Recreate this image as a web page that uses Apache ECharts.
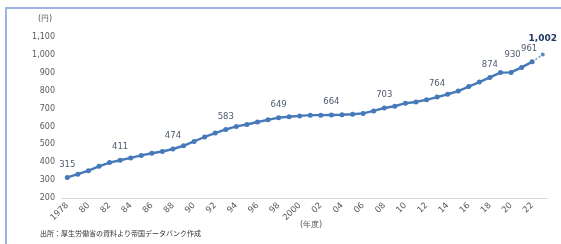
<!DOCTYPE html>
<html>
<head>
<meta charset="utf-8">
<script src="https://cdn.jsdelivr.net/npm/echarts@6/dist/echarts.min.js"></script>
<style>
html,body{margin:0;padding:0;background:#fff;}
#c{width:561px;height:244px;}
</style>
</head>
<body>
<div id="c"></div>
<script>
const years = [1978,1979,1980,1981,1982,1983,1984,1985,1986,1987,1988,1989,1990,1991,1992,1993,1994,1995,1996,1997,1998,1999,2000,2001,2002,2003,2004,2005,2006,2007,2008,2009,2010,2011,2012,2013,2014,2015,2016,2017,2018,2019,2020,2021,2022,2023];
const wages = [315,333,353,377,398,411,424,438,450,460,474,492,516,541,563,583,600,611,625,637,649,654,659,663,663,664,665,668,673,687,703,713,730,737,749,764,780,798,823,848,874,901,902,930,961,1002];
const labeledYears = [1978,1983,1988,1993,1998,2003,2008,2013,2018,2021,2022];
const yTicks = [200,300,400,500,600,700,800,900,1000,1100];

const cats = years.map(String);
function tickLabel(y){
  if (y === 1978 || y === 2000) return String(y);
  return String(y % 100).padStart(2,'0');
}
const F = 'DejaVu Sans, Verdana, sans-serif';
const lineColor = '#4579b8';
const n = years.length;

const mainData = wages.map((v,i)=>{
  if (i === n-1) return null;
  const y = years[i];
  const d = {value:v};
  if (labeledYears.includes(y)) {
    d.label = {show:true, position:'top', distance:6, color:'#4f5b6e', fontSize:8.5, fontFamily:F,
      offset: y===2021?[-9,0]:(y===2022?[-3,0]:[0,0])};
  }
  return d;
});
const dashData = wages.map((v,i)=> i>=n-2 ? v : null);

const chart = echarts.init(document.getElementById('c'));
chart.setOption({
  animation:false,
  grid:{left:62, right:13, top:37, bottom:46, containLabel:false},
  xAxis:{
    type:'category', data:cats, boundaryGap:true,
    axisLine:{show:true, lineStyle:{color:'#d9d9d9', width:1}},
    axisTick:{show:false},
    axisLabel:{interval:1, rotate:45, fontSize:8.5, fontFamily:F, color:'#595959', margin:6,
      formatter:(v)=>tickLabel(+v)}
  },
  yAxis:{
    type:'value', min:yTicks[0], max:yTicks[yTicks.length-1], interval:100,
    axisLine:{show:false}, axisTick:{show:false}, splitLine:{show:false},
    axisLabel:{fontSize:8, fontFamily:F, color:'#595959', margin:7,
      formatter:(v)=>v.toLocaleString('en-US')}
  },
  series:[
    {type:'line', data:mainData, symbol:'circle', symbolSize:5, showAllSymbol:true,
     itemStyle:{color:lineColor}, lineStyle:{color:lineColor, width:2.4}, z:3},
    {type:'line', data:dashData, symbol:'circle', symbolSize:4, showAllSymbol:true,
     itemStyle:{color:'#5b8ac4'}, lineStyle:{color:'#6b96cc', width:1.5, type:[2,2]}, z:2,
     label:{show:true, position:'top', distance:9, fontSize:9, fontWeight:'bold', color:'#1f3864', fontFamily:F,
       formatter:(p)=> p.dataIndex===n-1 ? p.value.toLocaleString('en-US') : ''}}
  ],
  graphic:[
    {type:'rect', shape:{x:6,y:8,width:700,height:400}, style:{fill:'none', stroke:'#9db4e3', lineWidth:2}, silent:true},
    {type:'text', left:38, top:15, style:{text:'(円)', fontSize:8, fontFamily:F, fill:'#595959'}},
    {type:'text', left:300, top:221, style:{text:'(年度)', fontSize:8, fontFamily:F, fill:'#595959'}},
    {type:'text', left:40, top:230, style:{text:'出所：厚生労働省の資料より帝国データバンク作成', fontSize:7, fontFamily:'Noto Sans CJK JP, sans-serif', fill:'#333333'}}
  ]
});
</script>
</body>
</html>
